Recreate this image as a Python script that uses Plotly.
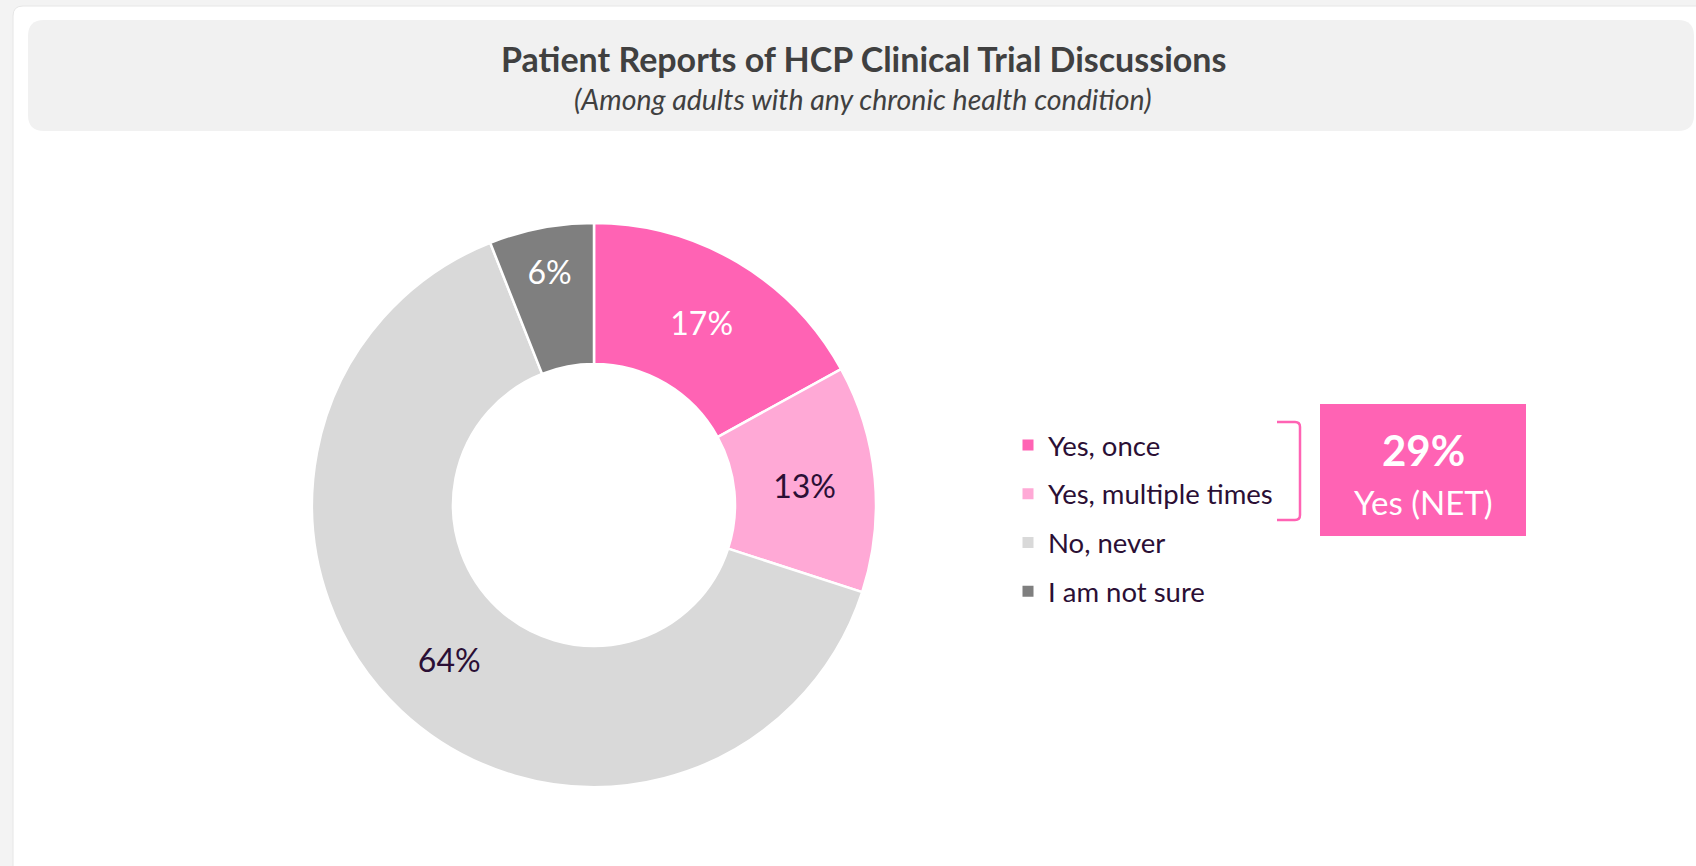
import plotly.graph_objects as go

# =========================
# DATA
# =========================
categories = ["Yes, once", "Yes, multiple times", "No, never", "I am not sure"]
shares = [17, 13, 64, 6]
slice_colors = ["#FF63B4", "#FFA9D6", "#D9D9D9", "#7F7F7F"]
label_colors = ["#FFFFFF", "#2B0F35", "#2B0F35", "#FFFFFF"]
net_share = 29
net_label = "Yes (NET)"

title = "Patient Reports of HCP Clinical Trial Discussions"
subtitle = "(Among adults with any chronic health condition)"

W, H = 1696, 866
FONT = "Lato, 'Open Sans', sans-serif"
PINK = "#FF63B4"
TXT = "#2B0F35"


def px(x):
    return x / W


def py(y):
    return 1 - y / H


def rounded_rect(x0, y0, x1, y1, r):
    return (
        f"M {px(x0 + r)},{py(y0)} L {px(x1 - r)},{py(y0)} "
        f"Q {px(x1)},{py(y0)} {px(x1)},{py(y0 + r)} L {px(x1)},{py(y1 - r)} "
        f"Q {px(x1)},{py(y1)} {px(x1 - r)},{py(y1)} L {px(x0 + r)},{py(y1)} "
        f"Q {px(x0)},{py(y1)} {px(x0)},{py(y1 - r)} L {px(x0)},{py(y0 + r)} "
        f"Q {px(x0)},{py(y0)} {px(x0 + r)},{py(y0)} Z"
    )


fig = go.Figure()

# donut
cx, cy, rad = 594, 505, 282
fig.add_trace(go.Pie(
    labels=categories,
    values=shares,
    sort=False,
    direction="clockwise",
    rotation=0,
    hole=0.5,
    marker=dict(colors=slice_colors, line=dict(color="white", width=2.5)),
    texttemplate="%{value}%",
    textposition="inside",
    insidetextorientation="horizontal",
    insidetextfont=dict(family=FONT, size=32, color=label_colors),
    showlegend=False,
    hoverinfo="label+percent",
    domain=dict(x=[px(cx - rad), px(cx + rad)], y=[py(cy + rad), py(cy - rad)]),
))

# legend entries (separate groups so the spacing can be set)
for i, (name, col) in enumerate(zip(categories, slice_colors)):
    fig.add_trace(go.Scatter(
        x=[None], y=[None], mode="markers", name=name,
        marker=dict(symbol="square", size=11, color=col),
        legendgroup=f"g{i}", showlegend=True,
    ))

shapes = [
    # white card
    dict(type="path", xref="paper", yref="paper", layer="below",
         path=rounded_rect(13, 6, 1710, 880, 10),
         fillcolor="white", line=dict(color="#E6E6E6", width=1)),
    # title box
    dict(type="path", xref="paper", yref="paper", layer="below",
         path=rounded_rect(28, 20, 1694, 131, 16),
         fillcolor="#F1F1F1", line=dict(width=0)),
    # bracket
    dict(type="path", xref="paper", yref="paper",
         path=(f"M {px(1277)},{py(422)} L {px(1295)},{py(422)} "
               f"Q {px(1300)},{py(422)} {px(1300)},{py(427)} "
               f"L {px(1300)},{py(515)} Q {px(1300)},{py(520)} {px(1295)},{py(520)} "
               f"L {px(1277)},{py(520)}"),
         line=dict(color=PINK, width=2.5)),
    # NET box
    dict(type="rect", xref="paper", yref="paper",
         x0=px(1320), x1=px(1526), y0=py(536), y1=py(404),
         fillcolor=PINK, line=dict(width=0)),
]

annotations = [
    dict(text=f"<b>{title}</b>", x=px(863), y=py(58), xref="paper", yref="paper",
         showarrow=False, font=dict(family=FONT, size=34, color="#404040"),
         xanchor="center", yanchor="middle"),
    dict(text=f"<i>{subtitle}</i>", x=px(863), y=py(99), xref="paper", yref="paper",
         showarrow=False, font=dict(family=FONT, size=28.5, color="#404040"),
         xanchor="center", yanchor="middle"),
    dict(text=f"<b>{net_share}%</b>", x=px(1423), y=py(450), xref="paper", yref="paper",
         showarrow=False, font=dict(family=FONT, size=42, color="white"),
         xanchor="center", yanchor="middle"),
    dict(text=net_label, x=px(1423), y=py(502), xref="paper", yref="paper",
         showarrow=False, font=dict(family=FONT, size=33, color="white"),
         xanchor="center", yanchor="middle"),
]

fig.update_layout(
    width=W, height=H,
    margin=dict(l=0, r=0, t=0, b=0),
    paper_bgcolor="#F3F3F3",
    plot_bgcolor="rgba(0,0,0,0)",
    xaxis=dict(visible=False),
    yaxis=dict(visible=False),
    shapes=shapes,
    annotations=annotations,
    legend=dict(
        x=px(1008), y=py(518), xanchor="left", yanchor="middle",
        font=dict(family=FONT, size=27.5, color=TXT),
        tracegroupgap=10, bgcolor="rgba(0,0,0,0)", itemwidth=30,
    ),
    showlegend=True,
)

fig.write_html(
    "out.html",
    config={"displayModeBar": False},
    post_script="document.body.style.margin='0px';document.body.style.overflow='hidden';"
                "document.body.style.background='#F3F3F3';",
)
